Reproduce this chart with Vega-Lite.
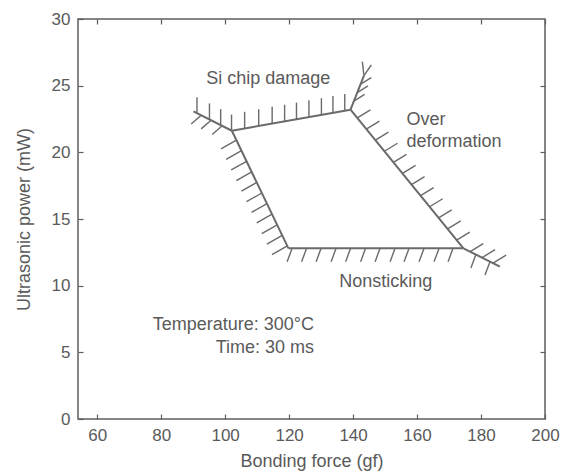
{
  "$schema": "https://vega.github.io/schema/vega-lite/v6.json",
  "width": 467,
  "height": 400,
  "autosize": {"type": "none"},
  "padding": {"left": 78, "top": 19, "right": 20, "bottom": 56},
  "background": "white",
  "config": {
    "view": {"stroke": "#5e5e5e", "strokeWidth": 1.5},
    "axis": {
      "grid": false,
      "domain": false,
      "tickSize": -5,
      "tickColor": "#5e5e5e",
      "tickWidth": 1.2,
      "labelFont": "Liberation Sans",
      "labelFontSize": 17,
      "labelColor": "#5a5a5a",
      "labelFlush": false,
      "titleFont": "Liberation Sans",
      "titleFontSize": 18,
      "titleColor": "#5a5a5a",
      "titleFontWeight": "normal"
    },
    "text": {"font": "Liberation Sans", "fontSize": 18, "fill": "#5a5a5a"}
  },
  "datasets": {
    "segments": [
      {"part": "boundary", "x": 90.1, "y": 23.07, "x2": 102.1, "y2": 21.62},
      {"part": "boundary", "x": 102.1, "y": 21.62, "x2": 139.2, "y2": 23.2},
      {"part": "boundary", "x": 139.2, "y": 23.2, "x2": 174.5, "y2": 12.8},
      {"part": "boundary", "x": 119.8, "y": 12.8, "x2": 174.5, "y2": 12.8},
      {"part": "boundary", "x": 102.1, "y": 21.62, "x2": 119.8, "y2": 12.8},
      {"part": "boundary", "x": 139.2, "y": 23.2, "x2": 143.4, "y2": 25.75},
      {"part": "boundary", "x": 174.5, "y": 12.8, "x2": 185.9, "y2": 11.43},
      {"part": "hatch", "x": 91.2, "y": 22.94, "x2": 91.2, "y2": 24.14},
      {"part": "hatch", "x": 95.1, "y": 22.47, "x2": 95.1, "y2": 23.67},
      {"part": "hatch", "x": 98.6, "y": 22.04, "x2": 98.6, "y2": 23.24},
      {"part": "hatch", "x": 102.0, "y": 21.63, "x2": 102.0, "y2": 22.83},
      {"part": "hatch", "x": 106.1, "y": 21.79, "x2": 106.1, "y2": 23.04},
      {"part": "hatch", "x": 110.5, "y": 21.98, "x2": 110.5, "y2": 23.23},
      {"part": "hatch", "x": 114.7, "y": 22.16, "x2": 114.7, "y2": 23.41},
      {"part": "hatch", "x": 118.6, "y": 22.32, "x2": 118.6, "y2": 23.57},
      {"part": "hatch", "x": 122.3, "y": 22.48, "x2": 122.3, "y2": 23.73},
      {"part": "hatch", "x": 126.2, "y": 22.65, "x2": 126.2, "y2": 23.9},
      {"part": "hatch", "x": 130.1, "y": 22.81, "x2": 130.1, "y2": 24.06},
      {"part": "hatch", "x": 133.7, "y": 22.97, "x2": 133.7, "y2": 24.22},
      {"part": "hatch", "x": 137.4, "y": 23.13, "x2": 137.4, "y2": 24.38},
      {"part": "hatch", "x": 103.52, "y": 20.91, "x2": 98.72, "y2": 20.26},
      {"part": "hatch", "x": 105.11, "y": 20.12, "x2": 100.31, "y2": 19.47},
      {"part": "hatch", "x": 106.70, "y": 19.33, "x2": 101.90, "y2": 18.68},
      {"part": "hatch", "x": 108.30, "y": 18.53, "x2": 103.50, "y2": 17.88},
      {"part": "hatch", "x": 109.89, "y": 17.74, "x2": 105.09, "y2": 17.09},
      {"part": "hatch", "x": 111.48, "y": 16.95, "x2": 106.68, "y2": 16.30},
      {"part": "hatch", "x": 113.07, "y": 16.15, "x2": 108.27, "y2": 15.50},
      {"part": "hatch", "x": 114.67, "y": 15.36, "x2": 109.87, "y2": 14.71},
      {"part": "hatch", "x": 116.26, "y": 14.56, "x2": 111.46, "y2": 13.91},
      {"part": "hatch", "x": 117.85, "y": 13.77, "x2": 113.05, "y2": 13.12},
      {"part": "hatch", "x": 119.45, "y": 12.98, "x2": 114.65, "y2": 12.33},
      {"part": "hatch", "x": 92.5, "y": 22.78, "x2": 89.4, "y2": 22.13},
      {"part": "hatch", "x": 95.6, "y": 22.41, "x2": 92.5, "y2": 21.76},
      {"part": "hatch", "x": 99.06, "y": 21.99, "x2": 95.96, "y2": 21.34},
      {"part": "hatch", "x": 141.32, "y": 22.58, "x2": 145.42, "y2": 23.18},
      {"part": "hatch", "x": 144.14, "y": 21.74, "x2": 148.24, "y2": 22.34},
      {"part": "hatch", "x": 146.97, "y": 20.91, "x2": 151.07, "y2": 21.51},
      {"part": "hatch", "x": 149.79, "y": 20.08, "x2": 153.89, "y2": 20.68},
      {"part": "hatch", "x": 152.61, "y": 19.25, "x2": 156.71, "y2": 19.85},
      {"part": "hatch", "x": 155.44, "y": 18.42, "x2": 159.54, "y2": 19.02},
      {"part": "hatch", "x": 158.26, "y": 17.58, "x2": 162.36, "y2": 18.18},
      {"part": "hatch", "x": 161.09, "y": 16.75, "x2": 165.19, "y2": 17.35},
      {"part": "hatch", "x": 163.91, "y": 15.92, "x2": 168.01, "y2": 16.52},
      {"part": "hatch", "x": 166.73, "y": 15.09, "x2": 170.83, "y2": 15.69},
      {"part": "hatch", "x": 169.56, "y": 14.26, "x2": 173.66, "y2": 14.86},
      {"part": "hatch", "x": 172.38, "y": 13.42, "x2": 176.48, "y2": 14.02},
      {"part": "hatch", "x": 120.94, "y": 12.8, "x2": 119.38, "y2": 11.8},
      {"part": "hatch", "x": 125.47, "y": 12.8, "x2": 123.91, "y2": 11.8},
      {"part": "hatch", "x": 130.0, "y": 12.8, "x2": 128.44, "y2": 11.8},
      {"part": "hatch", "x": 134.69, "y": 12.8, "x2": 133.13, "y2": 11.8},
      {"part": "hatch", "x": 139.22, "y": 12.8, "x2": 137.66, "y2": 11.8},
      {"part": "hatch", "x": 143.91, "y": 12.8, "x2": 142.35, "y2": 11.8},
      {"part": "hatch", "x": 148.44, "y": 12.8, "x2": 146.88, "y2": 11.8},
      {"part": "hatch", "x": 153.13, "y": 12.8, "x2": 151.57, "y2": 11.8},
      {"part": "hatch", "x": 157.5, "y": 12.8, "x2": 155.94, "y2": 11.8},
      {"part": "hatch", "x": 162.19, "y": 12.8, "x2": 160.63, "y2": 11.8},
      {"part": "hatch", "x": 166.88, "y": 12.8, "x2": 165.32, "y2": 11.8},
      {"part": "hatch", "x": 171.25, "y": 12.8, "x2": 169.69, "y2": 11.8},
      {"part": "hatch", "x": 178.4, "y": 12.33, "x2": 176.84, "y2": 11.33},
      {"part": "hatch", "x": 182.8, "y": 11.8, "x2": 181.24, "y2": 10.8},
      {"part": "hatch", "x": 176.6, "y": 12.55, "x2": 180.7, "y2": 13.15},
      {"part": "hatch", "x": 180.3, "y": 12.1, "x2": 184.4, "y2": 12.7},
      {"part": "hatch", "x": 183.75, "y": 11.69, "x2": 187.85, "y2": 12.29},
      {"part": "hatch", "x": 140.25, "y": 23.84, "x2": 143.6, "y2": 24.34},
      {"part": "hatch", "x": 141.3, "y": 24.48, "x2": 144.65, "y2": 24.98},
      {"part": "hatch", "x": 142.35, "y": 25.11, "x2": 145.7, "y2": 25.61},
      {"part": "hatch", "x": 143.4, "y": 25.75, "x2": 142.9, "y2": 26.8},
      {"part": "hatch", "x": 143.4, "y": 25.75, "x2": 145.7, "y2": 26.55}
    ],
    "labels": [
      {"label": "Si chip damage", "x": 113.5, "y": 25.5},
      {"label": "Over", "x": 156.7, "y": 22.45},
      {"label": "deformation", "x": 156.7, "y": 20.8},
      {"label": "Nonsticking", "x": 150.2, "y": 10.3},
      {"label": "Temperature: 300°C", "x": 127.8, "y": 7.06},
      {"label": "Time: 30 ms", "x": 127.8, "y": 5.31}
    ]
  },
  "layer": [
    {
      "layer": [
        {
          "data": {"name": "segments"},
          "transform": [{"filter": "datum.part === 'boundary'"}],
          "mark": {"type": "rule", "color": "#6a6a6a", "strokeWidth": 2},
          "encoding": {
            "x": {"field": "x", "type": "quantitative", "scale": {"domain": [54, 200], "nice": false, "zero": false},
                  "axis": {"orient": "bottom", "values": [60, 80, 100, 120, 140, 160, 180, 200], "title": "Bonding force (gf)", "labelPadding": 13, "titlePadding": 9}},
            "y": {"field": "y", "type": "quantitative", "scale": {"domain": [0, 30], "nice": false, "zero": false},
                  "axis": {"orient": "left", "values": [0, 5, 10, 15, 20, 25, 30], "title": "Ultrasonic power (mW)", "labelPadding": 13, "titlePadding": 18}},
            "x2": {"field": "x2"},
            "y2": {"field": "y2"}
          }
        },
        {
          "data": {"name": "segments"},
          "transform": [{"filter": "datum.part === 'hatch'"}],
          "mark": {"type": "rule", "color": "#6a6a6a", "strokeWidth": 1.4},
          "encoding": {
            "x": {"field": "x", "type": "quantitative", "axis": {"title": "Bonding force (gf)"}},
            "y": {"field": "y", "type": "quantitative", "axis": {"title": "Ultrasonic power (mW)"}},
            "x2": {"field": "x2"},
            "y2": {"field": "y2"}
          }
        },
        {
          "data": {"name": "labels"},
          "transform": [{"filter": "datum.label === 'Over' || datum.label === 'deformation'"}],
          "mark": {"type": "text", "align": "left", "baseline": "middle"},
          "encoding": {
            "x": {"field": "x", "type": "quantitative", "axis": {"title": "Bonding force (gf)"}},
            "y": {"field": "y", "type": "quantitative", "axis": {"title": "Ultrasonic power (mW)"}},
            "text": {"field": "label"}
          }
        },
        {
          "data": {"name": "labels"},
          "transform": [{"filter": "datum.label === 'Temperature: 300°C' || datum.label === 'Time: 30 ms'"}],
          "mark": {"type": "text", "align": "right", "baseline": "middle"},
          "encoding": {
            "x": {"field": "x", "type": "quantitative", "axis": {"title": "Bonding force (gf)"}},
            "y": {"field": "y", "type": "quantitative", "axis": {"title": "Ultrasonic power (mW)"}},
            "text": {"field": "label"}
          }
        }
      ]
    },
    {
      "data": {"name": "labels"},
      "transform": [{"filter": "datum.label === 'Si chip damage' || datum.label === 'Nonsticking'"}],
      "mark": {"type": "text", "align": "center", "baseline": "middle"},
      "encoding": {
        "x": {"field": "x", "type": "quantitative",
              "axis": {"orient": "top", "values": [60, 80, 100, 120, 140, 160, 180, 200], "labels": false, "title": null}},
        "y": {"field": "y", "type": "quantitative",
              "axis": {"orient": "right", "values": [5, 10, 15, 20, 25], "labels": false, "title": null}},
        "text": {"field": "label"}
      }
    }
  ],
  "resolve": {"axis": {"x": "independent", "y": "independent"}}
}
